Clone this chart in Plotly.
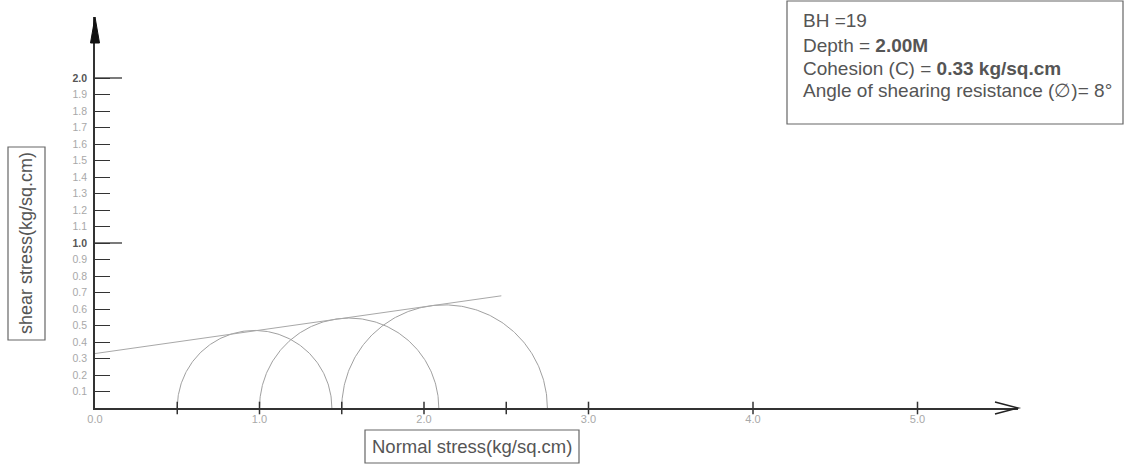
import numpy as np
import plotly.graph_objects as go

# ---- data ----
sigma3 = [0.50, 1.00, 1.50]          # minor principal stress (left end of circle)
sigma1 = [1.44, 2.09, 2.75]          # major principal stress (right end of circle)
env_x = [0.0, 2.47]                  # failure envelope
env_y = [0.33, 0.68]
x_tick_marks = [0.5, 1.0, 1.5, 2.0, 2.5, 3.0, 4.0, 5.0]
x_tick_vals = [0, 1, 2, 3, 4, 5]
x_tick_text = ["0.0", "1.0", "2.0", "3.0", "4.0", "5.0"]
y_tick_vals = [round(0.1 * i, 1) for i in range(1, 21)]
y_tick_text = ["0.1", "0.2", "0.3", "0.4", "0.5", "0.6", "0.7", "0.8", "0.9", "1.0",
               "1.1", "1.2", "1.3", "1.4", "1.5", "1.6", "1.7", "1.8", "1.9", "2.0"]
y_long_ticks = [1.0, 2.0]
info_lines = ["BH =19",
              "Depth = <b>2.00M</b>",
              "Cohesion (C) = <b>0.33 kg/sq.cm</b>",
              "Angle of shearing resistance (\u2205)= 8\u00b0"]

W, H = 1132, 471
L, R, T, B = 95, 1018, 17, 408        # plot area in pixels
XMAX = (R - L) / 164.5
YMAX = (B - T) / 165.0

def px(xp):
    return (xp - L) / (R - L)

def py(yp):
    return (B - yp) / (B - T)

FONT = "Liberation Sans, Arial, sans-serif"
AX = "#333333"

fig = go.Figure()

# Mohr circles
for s3, s1 in zip(sigma3, sigma1):
    c = (s1 + s3) / 2
    r = (s1 - s3) / 2
    th = np.linspace(0, np.pi, 200)
    fig.add_trace(go.Scatter(x=c + r * np.cos(th), y=r * np.sin(th), mode="lines",
                             line=dict(color="#a0a0a0", width=1), hoverinfo="skip",
                             showlegend=False, cliponaxis=False))

# failure envelope
fig.add_trace(go.Scatter(x=env_x, y=env_y, mode="lines",
                         line=dict(color="#a8a8a8", width=1), showlegend=False,
                         cliponaxis=False))

# x tick marks crossing the axis
fig.add_trace(go.Scatter(x=x_tick_marks, y=[0] * len(x_tick_marks), mode="markers",
                         marker=dict(symbol="line-ns", size=9,
                                     line=dict(color=AX, width=1.5)),
                         showlegend=False, cliponaxis=False))

ytext = []
for v, t in zip(y_tick_vals, y_tick_text):
    if v in y_long_ticks:
        ytext.append("<b><span style='color:#555555'>%s</span></b>" % t)
    else:
        ytext.append(t)

fig.update_layout(
    width=W, height=H,
    margin=dict(l=L, r=W - R, t=T, b=H - B, pad=0),
    paper_bgcolor="white", plot_bgcolor="white",
    font=dict(family=FONT, color="#555555"),
    showlegend=False,
    xaxis=dict(range=[0, XMAX], showgrid=False, zeroline=False, showline=True,
               linecolor=AX, linewidth=1.5, ticks="", tickvals=x_tick_vals,
               ticktext=x_tick_text, tickfont=dict(size=11, color="#a8a8a8")),
    yaxis=dict(range=[0, YMAX], showgrid=False, zeroline=False, showline=True,
               linecolor=AX, linewidth=1.5, ticks="inside", ticklen=15, tickwidth=1.3,
               tickcolor=AX, tickvals=y_tick_vals, ticktext=ytext,
               ticklabelstandoff=4,
               tickfont=dict(size=10.5, color="#a8a8a8")),
)

shapes = []
# longer ticks at 1.0 and 2.0
for v in y_long_ticks:
    shapes.append(dict(type="line", xref="x", xsizemode="pixel", xanchor=0,
                       x0=0, x1=27, yref="y", y0=v, y1=v,
                       line=dict(color=AX, width=1.3)))
# y axis filled arrow head (paper refs so it is not clipped)
shapes.append(dict(type="path", xref="paper", xsizemode="pixel", xanchor=0,
                   yref="paper", ysizemode="pixel", yanchor=1,
                   path="M -4.5,-26 L 0,0 L 4.5,-26 Z",
                   fillcolor="#111111", line=dict(color="#111111", width=1)))
# x axis open arrow head
shapes.append(dict(type="path", xref="paper", xsizemode="pixel", xanchor=1,
                   yref="paper", ysizemode="pixel", yanchor=0,
                   path="M -23,6 L 0,0 L -23,-6",
                   line=dict(color="#222222", width=1.6)))
# info box
shapes.append(dict(type="rect", xref="paper", yref="paper",
                   x0=px(787), x1=px(1123), y0=py(124), y1=py(1),
                   line=dict(color="#666666", width=1.2)))
# axis-title boxes
shapes.append(dict(type="rect", xref="paper", yref="paper",
                   x0=px(8), x1=px(45), y0=py(340), y1=py(147),
                   line=dict(color="#666666", width=1.2)))
shapes.append(dict(type="rect", xref="paper", yref="paper",
                   x0=px(365), x1=px(579), y0=py(463), y1=py(430),
                   line=dict(color="#666666", width=1.2)))
fig.update_layout(shapes=shapes)

ann = []
for i, (line, yc) in enumerate(zip(info_lines, [20, 45, 68, 90])):
    ann.append(dict(xref="paper", yref="paper", x=px(801), y=py(yc), text=line,
                    showarrow=False, xanchor="left", yanchor="middle",
                    font=dict(size=19, color="#555555")))
ann.append(dict(xref="paper", yref="paper", x=px(26.5), y=py(243.5),
                text="shear stress(kg/sq.cm)", textangle=-90, showarrow=False,
                xanchor="center", yanchor="middle",
                font=dict(size=18, color="#555555")))
ann.append(dict(xref="paper", yref="paper", x=px(472), y=py(446.5),
                text="Normal stress(kg/sq.cm)", showarrow=False,
                xanchor="center", yanchor="middle",
                font=dict(size=18.5, color="#555555")))
fig.update_layout(annotations=ann)

fig.write_html("out.html")
